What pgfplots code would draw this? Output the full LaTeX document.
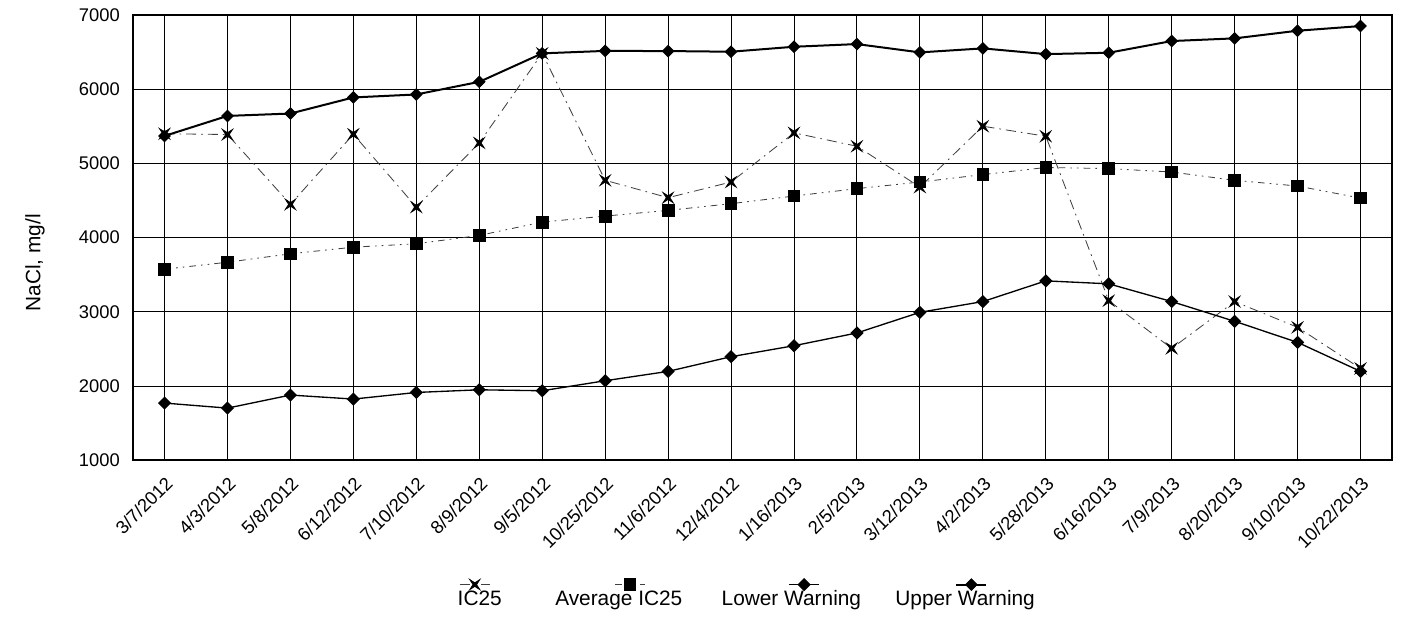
\documentclass[border=0pt]{standalone}
\usepackage{fontspec}
\setmainfont{Liberation Sans}
\usepackage{pgfplots}
\pgfplotsset{compat=1.18}

% four-pointed star, points on the diagonals
\pgfdeclareplotmark{xstar}{%
  \pgfpathmoveto{\pgfqpoint{\pgfplotmarksize}{\pgfplotmarksize}}%
  \pgfpathlineto{\pgfqpoint{0pt}{0.35\pgfplotmarksize}}%
  \pgfpathlineto{\pgfqpoint{-\pgfplotmarksize}{\pgfplotmarksize}}%
  \pgfpathlineto{\pgfqpoint{-0.35\pgfplotmarksize}{0pt}}%
  \pgfpathlineto{\pgfqpoint{-\pgfplotmarksize}{-\pgfplotmarksize}}%
  \pgfpathlineto{\pgfqpoint{0pt}{-0.35\pgfplotmarksize}}%
  \pgfpathlineto{\pgfqpoint{\pgfplotmarksize}{-\pgfplotmarksize}}%
  \pgfpathlineto{\pgfqpoint{0.35\pgfplotmarksize}{0pt}}%
  \pgfpathclose
  \pgfusepathqfillstroke
}

\pgfplotsset{
  legimg/.style 2 args={
    legend image code/.code={
      \draw[overlay,mark repeat=2,mark phase=2,##1]
        plot coordinates {(#1-9pt,#2) (#1,#2) (#1+9pt,#2)};
      \path (0pt,0pt);
    }
  }
}

% x = sample index, one column per date
\pgfplotstableread{
x   ic25  avg   lower  upper
0   5400  3574  1770   5370
1   5389  3668  1702   5640
2   4448  3782  1878   5672
3   5393  3871  1824   5889
4   4411  3917  1913   5929
5   5276  4029  1949   6099
6   6483  4209  1936   6483
7   4772  4290  2071   6516
8   4538  4367  2197   6514
9   4749  4457  2395   6505
10  5411  4560  2543   6572
11  5231  4660  2715   6608
12  4681  4749  2993   6496
13  5501  4849  3138   6550
14  5366  4945  3417   6473
15  3151  4930  3377   6491
16  2507  4884  3138   6649
17  3138  4772  2872   6685
18  2791  4695  2588   6788
19  2237  4533  2197   6851
}\datatable

\begin{document}
\begin{tikzpicture}
\begin{axis}[
  name=ax,
  scale only axis,
  width=755pt, height=267pt,
  xmin=-0.5, xmax=19.5,
  ymin=1000, ymax=7000,
  ytick={1000,2000,...,7000},
  xtick={0,...,19},
  xticklabels={3/7/2012,4/3/2012,5/8/2012,6/12/2012,7/10/2012,8/9/2012,9/5/2012,10/25/2012,11/6/2012,12/4/2012,1/16/2013,2/5/2013,3/12/2013,4/2/2013,5/28/2013,6/16/2013,7/9/2013,8/20/2013,9/10/2013,10/22/2013},
  grid=major,
  major grid style={black, line width=0.6pt},
  axis line style={line width=1.2pt},
  tick style={draw=none},
  tick label style={font=\fontsize{11}{13}\selectfont},
  /pgf/number format/assume math mode=true,
  /pgf/number format/1000 sep={},
  scaled y ticks=false,
  yticklabel style={inner sep=0pt, xshift=-7.8pt},
  xticklabel style={rotate=45, anchor=north east, inner sep=0pt, xshift=-6.3pt, yshift=-6.2pt},
  ylabel={NaCl, mg/l},
  ylabel style={at={(axis description cs:-0.0779,0.443)}, anchor=center,
    font=\fontsize{12.5}{15}\selectfont},
  legend columns=4,
  legend style={draw=none, fill=none, at={(axis description cs:0,0)}, anchor=north west,
    xshift=194pt, yshift=-77.5pt, inner sep=0pt, /tikz/column sep=0pt,
    font=\fontsize{12.5}{15}\selectfont,
    nodes={inner sep=0pt, text height=9.5pt, text depth=2.5pt}},
]
\addplot[black!75, line width=0.5pt, dash pattern=on 6pt off 3pt on 1pt off 3pt,
  mark=xstar, mark size=3pt, mark options={solid, black, fill=black},
  legimg={10.5pt}{9.1pt}] table[x=x, y=ic25] {\datatable};
\addlegendentry{\makebox[58pt][l]{IC25}}
\addplot[black!75, line width=0.5pt, dash pattern=on 4pt off 3pt on 1pt off 3pt on 1pt off 3pt,
  mark=square*, mark size=3.5pt, mark options={solid, black, fill=black},
  legimg={45pt}{9.1pt}] table[x=x, y=avg] {\datatable};
\addlegendentry{\makebox[99pt][l]{Average IC25}}
\addplot[black, line width=0.8pt,
  mark=square*, mark size=2.4pt, mark options={solid, fill=black, rotate=45},
  legimg={49.8pt}{9.1pt}] table[x=x, y=lower] {\datatable};
\addlegendentry{\makebox[103pt][l]{Lower Warning}}
\addplot[black, line width=1.2pt,
  mark=square*, mark size=2.4pt, mark options={solid, fill=black, rotate=45, line width=0.6pt},
  legimg={46.2pt}{9.1pt}] table[x=x, y=upper] {\datatable};
\addlegendentry{Upper Warning}
\end{axis}
\pgfresetboundingbox
\path ([shift={(-79.8pt,-96.6pt)}]ax.south west) rectangle ([shift={(6pt,9pt)}]ax.north east);
\end{tikzpicture}
\end{document}
